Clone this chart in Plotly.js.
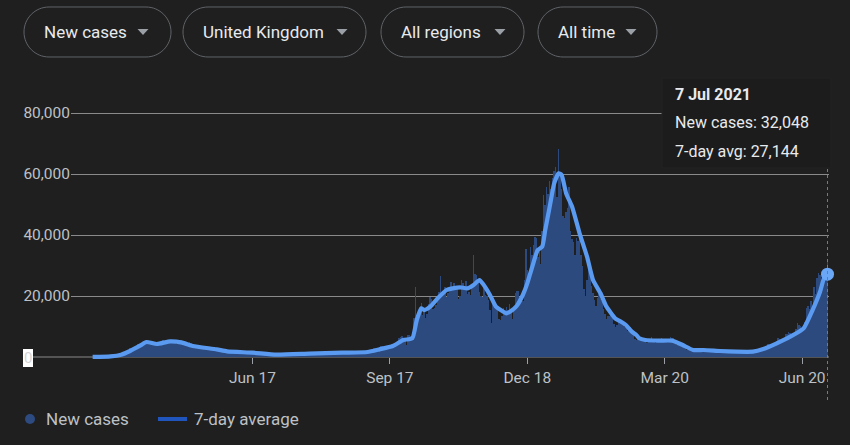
<!DOCTYPE html>
<html>
<head>
<meta charset="utf-8">
<script src="https://cdn.plot.ly/plotly-3.0.1.min.js"></script>
<style>
  html, body { margin: 0; padding: 0; background: #1f1f1f; }
  #chart { width: 850px; height: 445px; }
</style>
</head>
<body>
<div id="chart"></div>
<script>
// ---------------- DATA ----------------
const startDate = '2020-03-01';

const cases2020Mar = [13, 4, 11, 34, 29, 48, 45, 69, 43, 62, 77, 130, 208, 342, 251, 152, 407, 676, 643, 714, 1035, 665, 967, 1700, 1900, 2300, 2900, 2800, 2600, 2900, 3300];
const cases2020Apr = [4100, 4300, 4600, 3900, 5100, 4200, 4400, 5300, 5100, 5400, 4900, 4300, 3900, 4000, 4500, 4600, 5300, 5500, 5100, 4700, 4500, 4900, 5200, 5500, 5100, 4600, 4300, 4400, 4700, 5600];
const cases2020May = [5200, 4700, 4300, 3900, 4100, 4900, 4500, 3900, 3500, 3300, 3400, 3200, 3100, 3300, 3200, 3100, 2900, 2600, 2500, 2600, 2700, 2800, 2300, 2000, 2100, 2200, 2300, 2000, 2100, 1700, 1800];
const cases2020Jun = [1600, 1800, 1750, 1650, 1550, 1400, 1250, 1500, 1300, 1350, 1450, 1400, 1350, 1150, 1100, 1250, 1200, 1250, 1300, 1200, 1000, 1100, 900, 750, 1050, 950, 900, 850, 800, 700];
const cases2020Jul = [800, 650, 600, 650, 550, 450, 600, 650, 650, 550, 800, 650, 550, 550, 650, 700, 850, 900, 950, 800, 750, 850, 950, 1000, 1050, 950, 850, 950, 1050, 1100, 1100];
const cases2020Aug = [1000, 950, 900, 1000, 1050, 1000, 1050, 950, 1100, 950, 1150, 1050, 1400, 1100, 1150, 900, 1100, 1000, 1250, 1200, 1150, 1350, 1250, 1000, 1150, 1250, 1350, 1550, 1200, 1650, 1450];
const cases2020Sep = [1300, 1500, 1750, 1950, 1800, 2950, 2950, 2450, 2650, 2900, 3550, 3500, 3350, 2600, 3100, 4000, 3400, 4300, 4400, 3900, 4350, 4900, 6200, 6600, 6900, 6050, 5700, 4050, 7150, 7100];
const cases2020Oct = [6900, 6950, 12850, 22950, 12600, 14550, 14150, 17550, 13850, 15150, 12850, 13950, 17250, 19700, 19000, 15650, 16150, 17000, 18800, 21350, 26700, 21250, 20550, 23000, 19800, 20900, 22900, 24700, 23050, 24400, 21900];
const cases2020Nov = [23250, 18950, 20000, 25150, 24150, 23300, 24950, 20550, 21350, 20400, 22950, 33450, 27300, 26850, 24950, 21350, 20050, 19600, 22900, 20250, 19850, 18650, 15450, 11300, 18200, 17550, 16000, 15850, 12350, 12150];
const cases2020Dec = [13450, 16150, 14900, 16300, 15550, 17250, 14700, 12300, 16600, 20950, 21650, 21500, 18450, 20250, 18450, 25150, 35400, 28500, 27050, 35950, 33350, 36800, 39250, 39050, 32700, 34700, 30500, 41400, 53150, 50000, 55900];
const cases2021Jan = [53300, 57700, 55000, 58800, 60900, 62300, 52600, 68050, 59950, 54950, 46150, 45550, 47500, 48700, 55750, 41350, 38600, 37550, 33350, 38900, 37900, 40250, 33550, 30000, 22200, 20100, 25300, 28700, 29100, 23300, 21100];
const cases2021Feb = [18600, 16850, 19200, 20650, 19100, 18250, 15850, 14100, 12350, 13500, 13300, 15150, 13300, 10950, 9750, 10650, 12700, 12050, 12050, 10400, 9850, 10650, 8500, 9950, 10000, 8500, 7450, 6050];
const cases2021Mar = [5450, 6400, 5750, 6550, 6050, 5200, 5200, 4700, 5750, 5950, 6600, 5550, 5550, 4600, 5100, 5300, 5750, 6300, 4800, 5600, 5300, 5350, 5400, 6400, 6200, 6200, 4700, 3850, 4650, 4050, 4050];
const cases2021Apr = [4450, 3400, 3400, 2300, 2750, 2400, 2750, 2400, 2800, 2300, 1600, 3100, 2150, 2200, 2300, 2650, 1950, 1700, 2200, 2100, 2350, 2400, 2250, 1750, 1550, 1800, 2350, 1900, 2100, 1800];
const cases2021May = [1650, 1550, 2050, 1700, 2000, 1950, 1800, 1700, 1550, 1950, 1850, 2000, 1750, 1850, 1700, 1650, 1700, 1950, 2200, 2600, 2700, 2250, 1950, 2500, 2500, 3150, 3550, 4150, 3400, 3250, 3150];
const cases2021Jun = [3400, 4350, 5250, 6250, 5750, 5350, 5700, 6050, 7550, 7400, 8150, 7750, 7500, 7750, 7650, 9050, 11000, 10450, 10300, 9300, 10650, 11600, 16150, 16700, 15800, 18250, 14900, 22850, 20500, 26050];
const cases2021Jul = [27600, 26900, 24700, 24100, 26900, 27800, 32048];

// 7-day average
const avgDates = ['2020-03-02','2020-03-14','2020-03-21','2020-03-27','2020-04-03','2020-04-07','2020-04-14','2020-04-23','2020-05-01','2020-05-08','2020-05-24','2020-05-31','2020-06-17','2020-07-03','2020-07-25','2020-08-16','2020-09-02','2020-09-10','2020-09-19','2020-09-26','2020-10-02','2020-10-05','2020-10-08','2020-10-10','2020-10-14','2020-10-19','2020-10-25','2020-10-29','2020-11-03','2020-11-08','2020-11-12','2020-11-16','2020-11-18','2020-11-23','2020-11-27','2020-12-02','2020-12-04','2020-12-08','2020-12-11','2020-12-15','2020-12-18','2020-12-20','2020-12-22','2020-12-25','2020-12-28','2020-12-30','2021-01-02','2021-01-05','2021-01-08','2021-01-10','2021-01-13','2021-01-17','2021-01-22','2021-01-27','2021-01-31','2021-02-05','2021-02-09','2021-02-15','2021-02-18','2021-02-22','2021-02-26','2021-03-01','2021-03-03','2021-03-07','2021-03-16','2021-03-25','2021-04-01','2021-04-08','2021-04-15','2021-04-26','2021-05-07','2021-05-18','2021-05-25','2021-06-03','2021-06-12','2021-06-21','2021-06-27','2021-07-02','2021-07-05','2021-07-07'];
const avgValues = [10, 200, 770, 1970, 3800, 4920, 4260, 5140, 4700, 3600, 2510, 1860, 1420, 770, 1090, 1420, 1640, 2510, 3600, 5570, 6130, 12130, 15960, 15400, 16500, 19240, 21970, 22500, 22850, 22500, 23600, 25250, 24150, 20330, 16500, 14860, 14320, 15400, 16800, 20330, 24150, 27440, 30700, 35080, 36170, 41640, 49280, 56950, 60230, 59670, 53670, 49280, 40560, 32890, 25250, 20890, 16500, 12600, 11800, 10490, 8300, 7210, 6130, 5570, 5350, 5350, 3930, 2300, 2300, 1970, 1750, 1750, 2620, 4490, 6660, 9400, 15400, 21400, 26330, 27144];

const xTickDates = ['2020-06-17', '2020-09-17', '2020-12-18', '2021-03-20', '2021-06-20'];
const xTickLabels = ['Jun 17', 'Sep 17', 'Dec 18', 'Mar 20', 'Jun 20'];
const yTickValues = [20000, 40000, 60000, 80000];

const filterLabels = ['New cases', 'United Kingdom', 'All regions', 'All time'];
const legendLabels = ['New cases', '7-day average'];
const tooltipLabels = ['New cases', '7-day avg'];

// ---------------- BUILD ----------------
const newCases = [].concat(cases2020Mar, cases2020Apr, cases2020May, cases2020Jun, cases2020Jul,
  cases2020Aug, cases2020Sep, cases2020Oct, cases2020Nov, cases2020Dec, cases2021Jan,
  cases2021Feb, cases2021Mar, cases2021Apr, cases2021May, cases2021Jun, cases2021Jul);
const s = startDate.split('-').map(Number);
const dates = newCases.map((_, i) => {
  const d = new Date(Date.UTC(s[0], s[1] - 1, s[2] + i));
  return d.toISOString().slice(0, 10);
});

const W = 850, H = 445, L = 71, R = 829, T = 105, B = 366;
const ZERO_PX = 357, TOP80_PX = 113;
const unitsPerPx = 80000 / (ZERO_PX - TOP80_PX);
const px = x => (x - L) / (R - L);
const py = y => (B - y) / (B - T);

const TXT = '#bdc1c6';
const FONT = 'Roboto, "Noto Sans", Arial, sans-serif';

function pill(x0, y0, x1, y1) {
  const r = (y1 - y0) / 2, k = 0.5523 * r;
  const P = (x, y) => px(x).toFixed(5) + ',' + py(y).toFixed(5);
  return 'M' + P(x0 + r, y0) + ' L' + P(x1 - r, y0) +
    ' C' + P(x1 - r + k, y0) + ' ' + P(x1, y0 + r - k) + ' ' + P(x1, y0 + r) +
    ' C' + P(x1, y0 + r + k) + ' ' + P(x1 - r + k, y1) + ' ' + P(x1 - r, y1) +
    ' L' + P(x0 + r, y1) +
    ' C' + P(x0 + r - k, y1) + ' ' + P(x0, y0 + r + k) + ' ' + P(x0, y0 + r) +
    ' C' + P(x0, y0 + r - k) + ' ' + P(x0 + r - k, y0) + ' ' + P(x0 + r, y0) + ' Z';
}
function tri(cx, cy) {
  const P = (x, y) => px(x).toFixed(5) + ',' + py(y).toFixed(5);
  return 'M' + P(cx - 5.5, cy - 3) + ' L' + P(cx + 5.5, cy - 3) + ' L' + P(cx, cy + 3) + ' Z';
}

const buttons = [
  { x0: 24, x1: 171, tx: 42, ax: 143 },
  { x0: 183, x1: 366, tx: 201, ax: 342 },
  { x0: 381, x1: 524, tx: 399, ax: 500 },
  { x0: 538, x1: 657, tx: 556, ax: 631 }
];

const shapes = [];
const annotations = [];

// zero line extended to the left
shapes.push({ type: 'line', xref: 'paper', yref: 'y', x0: px(33), x1: 1, y0: 0, y1: 0,
  line: { color: '#8a8a8a', width: 1 }, layer: 'below' });
// "0" highlighted label box
shapes.push({ type: 'rect', xref: 'paper', yref: 'paper', x0: px(23), x1: px(33), y0: py(367), y1: py(349),
  fillcolor: '#ffffff', line: { width: 0 }, layer: 'above' });
annotations.push({ xref: 'paper', yref: 'paper', x: px(28), y: py(358), text: '0', showarrow: false,
  xanchor: 'center', yanchor: 'middle', font: { family: FONT, size: 15, color: '#d4d4d4' } });

// filter buttons
buttons.forEach((b, i) => {
  shapes.push({ type: 'path', xref: 'paper', yref: 'paper', path: pill(b.x0, 7, b.x1, 57),
    line: { color: '#5f6368', width: 1 }, fillcolor: 'rgba(0,0,0,0)', layer: 'above' });
  shapes.push({ type: 'path', xref: 'paper', yref: 'paper', path: tri(b.ax, 32),
    line: { width: 0 }, fillcolor: '#9aa0a6', layer: 'above' });
  annotations.push({ xref: 'paper', yref: 'paper', x: px(b.tx), y: py(32), text: filterLabels[i],
    showarrow: false, xanchor: 'left', yanchor: 'middle',
    font: { family: FONT, size: 17, color: '#e8eaed' } });
});

// hover line and tooltip
const lastIdx = newCases.length - 1;
const lastDate = dates[lastIdx];
shapes.push({ type: 'line', xref: 'x', yref: 'paper', x0: lastDate, x1: lastDate, y0: py(400), y1: py(168),
  line: { color: '#7a7a7a', width: 1, dash: 'dot' }, layer: 'above' });
shapes.push({ type: 'rect', xref: 'paper', yref: 'paper', x0: px(662), x1: px(831), y0: py(168), y1: py(78),
  fillcolor: '#1c1c1c', line: { width: 1, color: '#232323' }, layer: 'above' });

const months = ['Jan','Feb','Mar','Apr','May','Jun','Jul','Aug','Sep','Oct','Nov','Dec'];
const ld = lastDate.split('-').map(Number);
const tipTitle = ld[2] + ' ' + months[ld[1] - 1] + ' ' + ld[0];
const fmt = v => v.toLocaleString('en-US');
const tipLines = [
  { y: 94, text: '<b>' + tipTitle + '</b>' },
  { y: 122, text: tooltipLabels[0] + ': ' + fmt(newCases[lastIdx]) },
  { y: 151, text: tooltipLabels[1] + ': ' + fmt(avgValues[avgValues.length - 1]) }
];
tipLines.forEach(t => annotations.push({ xref: 'paper', yref: 'paper', x: px(673), y: py(t.y), text: t.text,
  showarrow: false, xanchor: 'left', yanchor: 'middle', font: { family: FONT, size: 16, color: '#e8eaed' } }));

// legend
shapes.push({ type: 'circle', xref: 'paper', yref: 'paper', x0: px(25), x1: px(35), y0: py(424), y1: py(414),
  fillcolor: '#2d4b80', line: { width: 0 } });
shapes.push({ type: 'line', xref: 'paper', yref: 'paper', x0: px(158), x1: px(187), y0: py(419), y1: py(419),
  line: { color: '#1f55bd', width: 4 } });
annotations.push({ xref: 'paper', yref: 'paper', x: px(44), y: py(419), text: legendLabels[0], showarrow: false,
  xanchor: 'left', yanchor: 'middle', font: { family: FONT, size: 17, color: TXT } });
annotations.push({ xref: 'paper', yref: 'paper', x: px(192), y: py(419), text: legendLabels[1], showarrow: false,
  xanchor: 'left', yanchor: 'middle', font: { family: FONT, size: 17, color: TXT } });

const traces = [
  { type: 'bar', x: dates, y: newCases, marker: { color: '#2d4a7e', line: { width: 0 } }, hoverinfo: 'skip' },
  { type: 'scatter', mode: 'lines', x: avgDates, y: avgValues,
    line: { color: '#5a9bf1', width: 4.2, shape: 'spline', smoothing: 0.5 }, hoverinfo: 'skip' },
  { type: 'scatter', mode: 'markers', x: [avgDates[avgDates.length - 1]], y: [avgValues[avgValues.length - 1]],
    marker: { color: '#6aa7f6', size: 13 }, hoverinfo: 'skip', cliponaxis: false }
];

const layout = {
  width: W, height: H,
  margin: { l: L, r: W - R, t: T, b: H - B, pad: 0 },
  paper_bgcolor: '#1f1f1f', plot_bgcolor: '#1f1f1f',
  showlegend: false, bargap: 0,
  font: { family: FONT, color: TXT },
  xaxis: {
    type: 'date', range: ['2020-02-16 12:00', '2021-07-08'],
    anchor: 'free', position: py(ZERO_PX),
    tickvals: xTickDates, ticktext: xTickLabels,
    ticks: 'outside', ticklen: 6, tickwidth: 1, tickcolor: '#9aa0a6',
    tickfont: { family: FONT, size: 15.5, color: TXT },
    showgrid: false, zeroline: false, showline: false, fixedrange: true
  },
  yaxis: {
    range: [-(B - ZERO_PX) * unitsPerPx, (ZERO_PX - T) * unitsPerPx],
    tickvals: yTickValues, tickformat: ',d',
    showgrid: true, gridcolor: '#8a8a8a', gridwidth: 1,
    zeroline: false, showline: false, ticks: '',
    tickfont: { family: FONT, size: 15.5, color: TXT },
    fixedrange: true
  },
  shapes: shapes,
  annotations: annotations
};

Plotly.newPlot('chart', traces, layout, { staticPlot: true, displayModeBar: false });
</script>
</body>
</html>
